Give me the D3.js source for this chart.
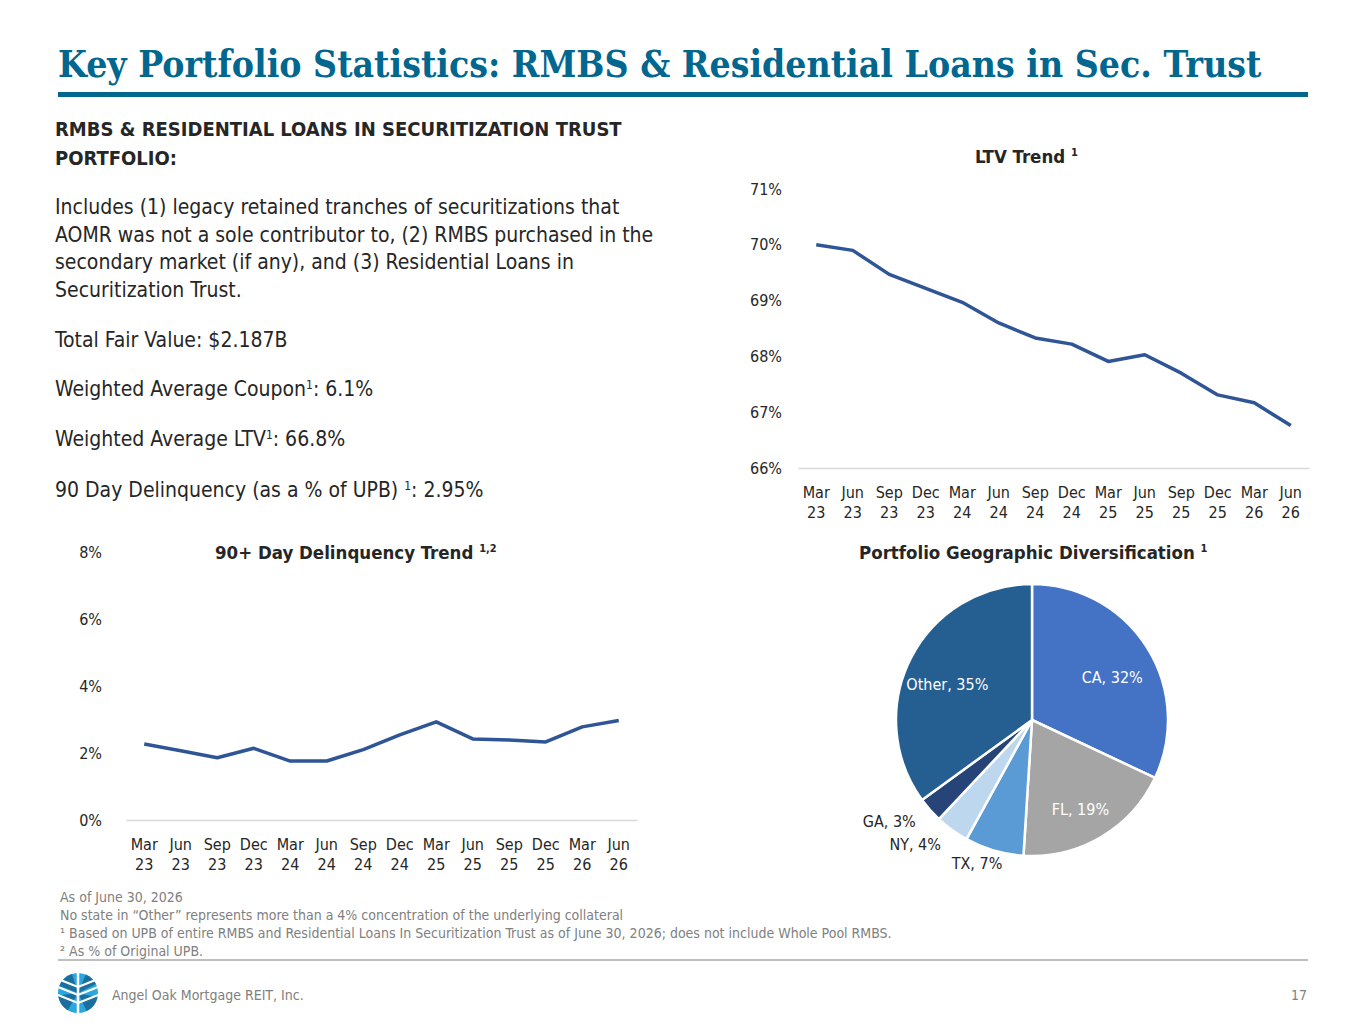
<!DOCTYPE html>
<html lang="en">
<head>
<meta charset="UTF-8">
<title>Key Portfolio Statistics</title>
<script src="https://d3js.org/d3.v7.min.js"></script>
<style>
  body { margin: 0; background: white; }
  svg { display: block; }
  .narrow { font-family: "Liberation Sans Narrow", "DejaVu Sans Condensed", "Arial Narrow", sans-serif; }
  .tick text { font-family: "Liberation Sans Narrow", "DejaVu Sans Condensed", sans-serif; font-size: 16px; fill: #262626; }
</style>
</head>
<body>
<svg width="1365" height="1024"></svg>
<script>
// ---- data ----
const quarters = ["Mar 23", "Jun 23", "Sep 23", "Dec 23", "Mar 24", "Jun 24", "Sep 24",
                  "Dec 24", "Mar 25", "Jun 25", "Sep 25", "Dec 25", "Mar 26", "Jun 26"];
const ltvValues = [70.0, 69.9, 69.47, 69.22, 68.97, 68.6, 68.33, 68.22, 67.91, 68.03, 67.7, 67.31, 67.17, 66.76];
const dlqValues = [2.27, 2.07, 1.86, 2.14, 1.76, 1.76, 2.1, 2.54, 2.93, 2.42, 2.39, 2.33, 2.78, 2.97];
const ltvTicks = [66, 67, 68, 69, 70, 71];
const dlqTicks = [0, 2, 4, 6, 8];
const states = ["CA", "FL", "TX", "NY", "GA", "Other"];
const stateShares = [32, 19, 7, 4, 3, 35];

const bodyLines = [
  "Includes (1) legacy retained tranches of securitizations that",
  "AOMR was not a sole contributor to, (2) RMBS purchased in the",
  "secondary market (if any), and (3) Residential Loans in",
  "Securitization Trust."
];
const footnotes = [
  "As of June 30, 2026",
  "No state in \u201cOther\u201d represents more than a 4% concentration of the underlying collateral",
  "\u00b9  Based on UPB of entire RMBS and Residential Loans In Securitization Trust as of June 30, 2026; does not include Whole Pool RMBS.",
  "\u00b2 As % of Original UPB."
];

const svg = d3.select("svg");
const brand = "#02678f";
const lineBlue = "#2f5597";
const textCol = "#262626";

// ---- header ----
const title = svg.append("text")
  .attr("x", 58).attr("y", 77)
  .style("font-family", "'DejaVu Serif Condensed', 'DejaVu Serif', serif")
  .style("font-weight", "bold").style("font-size", "42px")
  .attr("fill", brand)
  .text("Key Portfolio Statistics: RMBS & Residential Loans in Sec. Trust");
// shrink the font until the title spans the same width as the rule below
const natural = title.node().getComputedTextLength();
if (natural > 0) title.style("font-size", (42 * 1204 / natural).toFixed(2) + "px");
svg.append("rect").attr("x", 58).attr("y", 92).attr("width", 1250).attr("height", 5).attr("fill", brand);

// ---- left text block ----
const left = svg.append("g").attr("class", "narrow").attr("fill", textCol).style("font-size", "21px");
left.append("text").attr("x", 55).attr("y", 136).style("font-weight", "bold").style("font-size", "20px")
  .text("RMBS & RESIDENTIAL LOANS IN SECURITIZATION TRUST");
left.append("text").attr("x", 55).attr("y", 165).style("font-weight", "bold").style("font-size", "20px")
  .text("PORTFOLIO:");
bodyLines.forEach((s, i) => left.append("text").attr("x", 55).attr("y", 214 + i * 27.5).text(s));

function statLine(y, pre, sup, post) {
  const t = left.append("text").attr("x", 55).attr("y", y);
  t.append("tspan").text(pre);
  t.append("tspan").attr("dy", -7).style("font-size", "12px").text(sup);
  t.append("tspan").attr("dy", 7).text(post);
}
left.append("text").attr("x", 55).attr("y", 347).text("Total Fair Value: $2.187B");
statLine(396, "Weighted Average Coupon", "1", ": 6.1%");
statLine(446, "Weighted Average LTV", "1", ": 66.8%");
statLine(497, "90 Day Delinquency (as a % of UPB) ", "1", ": 2.95%");

// ---- chart title helper ----
function chartTitle(x, y, main, sup) {
  const t = svg.append("text").attr("class", "narrow").attr("x", x).attr("y", y)
    .attr("fill", textCol).style("font-size", "18.5px").style("font-weight", "bold");
  t.append("tspan").text(main + " ");
  t.append("tspan").attr("dy", -7).style("font-size", "11px").text(sup);
}

// ---- line chart helper ----
function lineChart(opts) {
  const x = d3.scaleBand().domain(quarters).range(opts.xRange);
  const y = d3.scaleLinear().domain(opts.yDomain).range(opts.yRange);
  const g = svg.append("g");

  const yAxis = g.append("g").attr("transform", `translate(${opts.yLabelX},0)`)
    .call(d3.axisLeft(y).tickValues(opts.ticks).tickSize(0).tickPadding(0).tickFormat(d => d + "%"));
  yAxis.select(".domain").remove();

  const xAxis = g.append("g").attr("transform", `translate(0,${opts.yRange[0]})`)
    .call(d3.axisBottom(x).tickSize(0).tickFormat(""));
  xAxis.select(".domain").attr("stroke", "#d9d9d9").attr("stroke-width", 1.3);
  xAxis.selectAll(".tick").each(function (d) {
    const parts = d.split(" ");
    const t = d3.select(this).select("text").attr("y", 0).attr("dy", null);
    t.append("tspan").attr("x", 0).attr("y", 30).text(parts[0]);
    t.append("tspan").attr("x", 0).attr("y", 50).text(parts[1]);
  });

  const line = d3.line().x((d, i) => x(quarters[i]) + x.bandwidth() / 2).y(d => y(d));
  g.append("path").datum(opts.values)
    .attr("d", line).attr("fill", "none")
    .attr("stroke", lineBlue).attr("stroke-width", 3.5).attr("stroke-linejoin", "round");
}

chartTitle(975, 163, "LTV Trend", "1");
lineChart({ xRange: [798, 1309], yDomain: [66, 71], yRange: [468, 189], yLabelX: 782,
            ticks: ltvTicks, values: ltvValues });

chartTitle(215, 559, "90+ Day Delinquency Trend", "1,2");
lineChart({ xRange: [126, 637], yDomain: [0, 8], yRange: [820, 552], yLabelX: 102,
            ticks: dlqTicks, values: dlqValues });

// ---- pie ----
chartTitle(859, 559, "Portfolio Geographic Diversification", "1");
const pieColors = d3.scaleOrdinal().domain(states)
  .range(["#4472c4", "#a5a5a5", "#5b9bd5", "#bdd7ee", "#264478", "#255e91"]);
const pieData = d3.pie().sort(null).value(d => d.v)(states.map((s, i) => ({ s, v: stateShares[i] })));
const R = 136;
const arc = d3.arc().innerRadius(0).outerRadius(R);
const pg = svg.append("g").attr("transform", "translate(1032,720)");
pg.selectAll("path.slice").data(pieData).join("path").attr("class", "slice")
  .attr("d", arc).attr("fill", d => pieColors(d.data.s))
  .attr("stroke", "white").attr("stroke-width", 2.5).attr("stroke-linejoin", "round");

const inner = d3.arc().innerRadius(95).outerRadius(95);
pg.selectAll("text.lbl").data(pieData).join("text").attr("class", "lbl narrow")
  .each(function (d) {
    const big = d.data.v >= 10;
    const t = d3.select(this);
    if (big) {
      const c = inner.centroid(d);
      t.attr("x", c[0]).attr("y", c[1] + 9).attr("text-anchor", "middle").attr("fill", "white");
    } else {
      let a = (d.startAngle + d.endAngle) / 2;
      const side = Math.abs(Math.sin(a)) < 0.4;
      if (side) a += 0.08;
      t.attr("x", Math.sin(a) * 155).attr("y", -Math.cos(a) * 155)
        .attr("text-anchor", side ? "middle" : "end").attr("fill", textCol);
    }
    t.attr("dominant-baseline", "middle").style("font-size", "16px")
      .text(`${d.data.s}, ${d.data.v}%`);
  });

// ---- footnotes ----
const fn = svg.append("g").attr("class", "narrow").attr("fill", "#808080").style("font-size", "14px");
footnotes.forEach((s, i) => fn.append("text").attr("x", 60).attr("y", 902 + i * 18).text(s));
svg.append("rect").attr("x", 58).attr("y", 959).attr("width", 1250).attr("height", 2).attr("fill", "#bfbfbf");
svg.append("text").attr("class", "narrow").attr("x", 112).attr("y", 1000)
  .attr("fill", "#808080").style("font-size", "14px").text("Angel Oak Mortgage REIT, Inc.");
svg.append("text").attr("class", "narrow").attr("x", 1307).attr("y", 1000).attr("text-anchor", "end")
  .attr("fill", "#808080").style("font-size", "14px").text("17");

// ---- logo (simplified tree in circle) ----
const logo = svg.append("g").attr("transform", "translate(78,993)");
logo.append("circle").attr("r", 20).attr("fill", "#2aa7df");
const leafArc = d3.arc().innerRadius(0).outerRadius(20);
[[-2.6, -1.7], [-1.2, -0.3], [0.4, 1.1], [1.8, 2.7]].forEach(a =>
  logo.append("path").attr("d", leafArc({ startAngle: a[0], endAngle: a[1] })).attr("fill", "#1c6f9c"));
logo.append("line").attr("x1", 0).attr("y1", 20).attr("x2", 0).attr("y2", -20).attr("stroke", "white").attr("stroke-width", 2.5);
[[-6, -20, -14], [2, -20, -6], [10, -20, 2]].forEach(b => {
  logo.append("line").attr("x1", 0).attr("y1", b[0]).attr("x2", b[1]).attr("y2", b[2]).attr("stroke", "white").attr("stroke-width", 2);
  logo.append("line").attr("x1", 0).attr("y1", b[0]).attr("x2", -b[1]).attr("y2", b[2]).attr("stroke", "white").attr("stroke-width", 2);
});
</script>
</body>
</html>
